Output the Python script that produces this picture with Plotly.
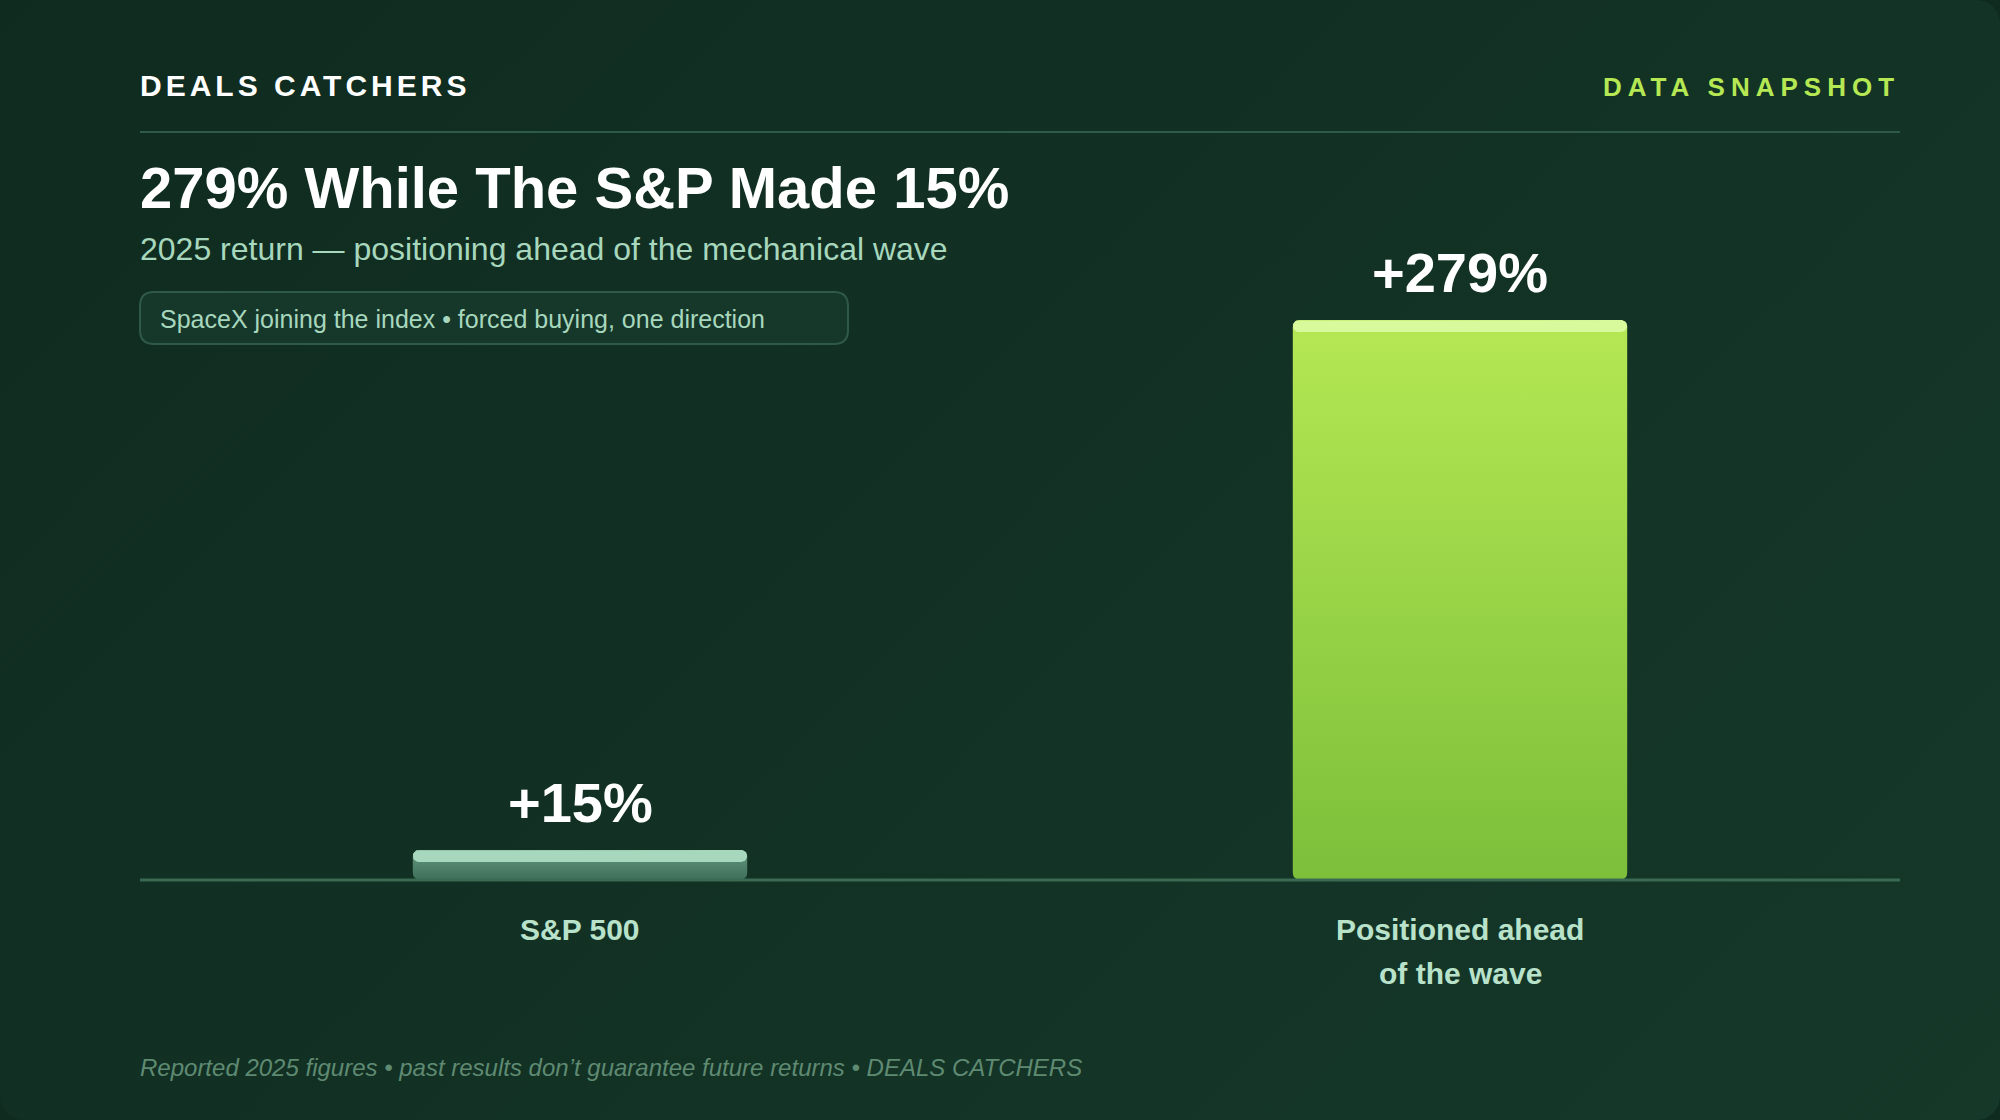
import base64
import math

import plotly.graph_objects as go

# data
categories = ["S&P 500", "Positioned ahead of the wave"]
returns = [15, 279]
value_labels = ["+15%", "+279%"]
category_lines = [["S&P 500"], ["Positioned ahead", "of the wave"]]

brand = "DEALS CATCHERS"
tag = "DATA SNAPSHOT"
title = "279% While The S&P Made 15%"
subtitle = "2025 return — positioning ahead of the mechanical wave"
pill_text = "SpaceX joining the index • forced buying, one direction"
footnote = "Reported 2025 figures • past results don’t guarantee future returns • DEALS CATCHERS"

# canvas + plot area in pixels
W, H = 2000, 1120
LEFT, RIGHT = 140, 1900
BASE_Y = 880
PX_PER_UNIT = 2.007
Y_MAX = 300
BAR_WIDTH = 0.38
FONT = "Liberation Sans"

px_x = (RIGHT - LEFT) / 2  # pixels per category


def rounded_box(x0, x1, y0, y1, r_px, n=8):
    # rounded rectangle in axis units, radius given in pixels
    rx = r_px / px_x
    ry = r_px / PX_PER_UNIT
    corners = [(x1 - rx, y1 - ry, 0), (x0 + rx, y1 - ry, 90),
               (x0 + rx, y0 + ry, 180), (x1 - rx, y0 + ry, 270)]
    xs, ys = [], []
    for cx, cy, start in corners:
        for k in range(n + 1):
            a = math.radians(start + 90 * k / n)
            xs.append(cx + rx * math.cos(a))
            ys.append(cy + ry * math.sin(a))
    return xs + xs[:1], ys + ys[:1]


fig = go.Figure()

# real bars carry the values, painted over by the gradient bodies below
fig.add_trace(go.Bar(
    x=list(range(len(returns))), y=returns, width=BAR_WIDTH,
    marker=dict(color=["#5f9478", "#b5e853"], opacity=0),
    customdata=categories,
    hovertemplate="%{customdata}: +%{y}%<extra></extra>",
))

gradients = [
    [[0, "#3d7059"], [1, "#66987f"]],
    [[0, "#7cbf3a"], [1, "#b5e853"]],
]
caps = ["#a7d7bd", "#d9f99d"]
CAP_PX = 12

for i, v in enumerate(returns):
    x0, x1 = i - BAR_WIDTH / 2, i + BAR_WIDTH / 2
    xs, ys = rounded_box(x0, x1, 0, v, 7)
    fig.add_trace(go.Scatter(
        x=xs, y=ys, mode="lines", fill="toself", line=dict(width=0),
        fillgradient=dict(type="vertical", colorscale=gradients[i]),
        hoverinfo="skip",
    ))
    xs, ys = rounded_box(x0, x1, v - CAP_PX / PX_PER_UNIT, v, 6)
    fig.add_trace(go.Scatter(
        x=xs, y=ys, mode="lines", fill="toself", line=dict(width=0),
        fillcolor=caps[i], hoverinfo="skip",
    ))
    fig.add_annotation(
        x=i, y=v, text=f"<b>{value_labels[i]}</b>", showarrow=False,
        yanchor="bottom", yshift=14, font=dict(size=56, color="#ffffff", family=FONT),
    )
    for j, line in enumerate(category_lines[i]):
        fig.add_annotation(
            x=i, y=0, text=f"<b>{line}</b>", showarrow=False, yanchor="middle",
            yshift=-(49 + 44 * j), font=dict(size=30, color="#b9e2cb", family=FONT),
        )


def paper_text(x, y, text, size, color, anchor="left"):
    fig.add_annotation(
        xref="paper", yref="paper", x=x / W, y=1 - y / H, text=text, showarrow=False,
        xanchor=anchor, yanchor="middle", borderpad=0, borderwidth=0,
        font=dict(size=size, color=color, family=FONT),
    )


paper_text(140, 86, f'<b><span style="letter-spacing:4px">{brand}</span></b>', 30, "#ffffff")
paper_text(1900, 87, f'<b><span style="letter-spacing:6px">{tag}</span></b>', 26, "#b5e853", "right")
paper_text(140, 188, f"<b>{title}</b>", 58, "#ffffff")
paper_text(140, 249, subtitle, 32, "#a7d7bd")
paper_text(160, 319, pill_text, 25, "#a7d7bd")
paper_text(140, 1067, f"<i>{footnote}</i>", 24, "#5f8a72")

# header rule, pill, baseline
fig.add_shape(type="line", xref="paper", yref="paper", x0=LEFT / W, x1=RIGHT / W,
              y0=1 - 132 / H, y1=1 - 132 / H, line=dict(color="#2f5a47", width=2), layer="below")
px0, px1, py0, py1, r = 140 / W, 848 / W, 1 - 344 / H, 1 - 292 / H, 14
rx, ry = r / W, r / H
fig.add_shape(
    type="path", xref="paper", yref="paper", layer="below",
    path=(f"M {px0 + rx} {py1} L {px1 - rx} {py1} Q {px1} {py1} {px1} {py1 - ry} "
          f"L {px1} {py0 + ry} Q {px1} {py0} {px1 - rx} {py0} L {px0 + rx} {py0} "
          f"Q {px0} {py0} {px0} {py0 + ry} L {px0} {py1 - ry} Q {px0} {py1} {px0 + rx} {py1} Z"),
    fillcolor="#16382a", line=dict(color="#2f5a47", width=2),
)
fig.add_shape(type="line", xref="paper", yref="paper", x0=LEFT / W, x1=RIGHT / W,
              y0=1 - BASE_Y / H, y1=1 - BASE_Y / H, line=dict(color="#3a6b52", width=3), layer="above")

# card background: diagonal gradient, rounded corners on a darker page
card_svg = (
    f'<svg xmlns="http://www.w3.org/2000/svg" width="{W}" height="{H}">'
    '<defs><linearGradient id="g" gradientUnits="userSpaceOnUse" x1="220" y1="-220" x2="1780" y2="1340">'
    '<stop offset="0" stop-color="#0f2b1f"/><stop offset="1" stop-color="#153829"/>'
    f'</linearGradient></defs><rect width="{W}" height="{H}" rx="24" ry="24" fill="url(#g)"/></svg>'
)
card_uri = "data:image/svg+xml;base64," + base64.b64encode(card_svg.encode()).decode()

fig.update_layout(
    width=W, height=H, margin=dict(l=0, r=0, t=0, b=0),
    paper_bgcolor="#0f2b20", plot_bgcolor="rgba(0,0,0,0)",
    showlegend=False, bargap=0,
    images=[dict(source=card_uri, xref="paper", yref="paper", x=0, y=1, sizex=1, sizey=1,
                 xanchor="left", yanchor="top", sizing="stretch", layer="below")],
    xaxis=dict(domain=[LEFT / W, RIGHT / W], range=[-0.5, 1.5], visible=False, fixedrange=True),
    yaxis=dict(domain=[(H - BASE_Y) / H, (H - BASE_Y + Y_MAX * PX_PER_UNIT) / H],
               range=[0, Y_MAX], visible=False, fixedrange=True),
)

fig.write_html("out.html", config=dict(displayModeBar=False),
               post_script="document.body.style.margin='0';")
